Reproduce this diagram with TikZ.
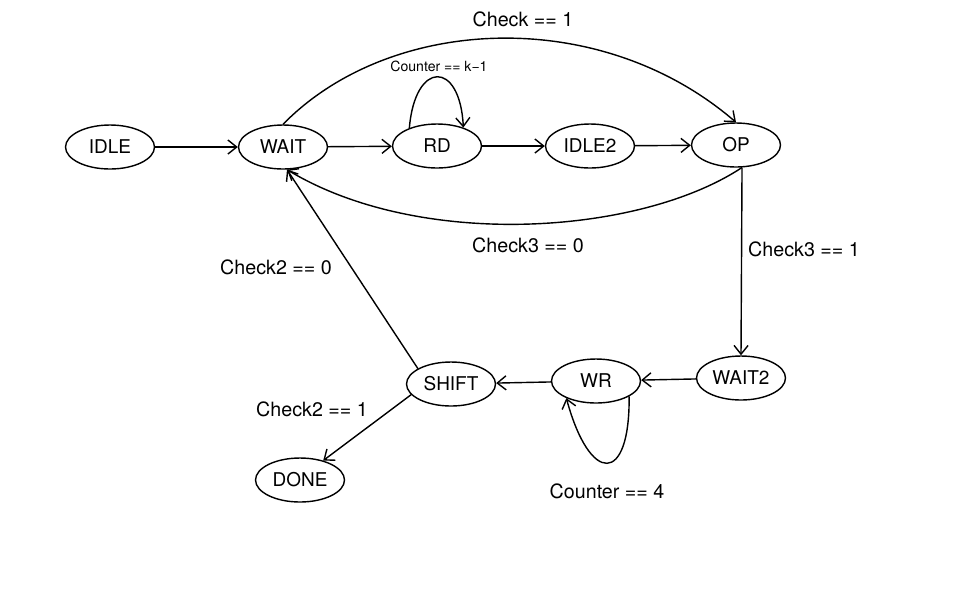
\documentclass[tikz,border=0pt]{standalone}
\usepackage{fontspec}
\setmainfont{TeX Gyre Heros}
\usetikzlibrary{arrows.meta,shapes.geometric}

\begin{document}
\begin{tikzpicture}[x=0.02cm, y=-0.02cm,
    state/.style={draw, ellipse, line width=0.8pt, minimum width=1.78cm,
        minimum height=0.88cm, inner sep=0pt, font=\fontsize{10.8}{13}\selectfont},
    cond/.style={font=\fontsize{11.2}{13}\selectfont},
    edge/.style={->, line width=0.8pt},
    >={Straight Barb[length=5pt,width=8pt]}]
    \useasboundingbox (0,0) rectangle (960,600);

    % Top row of states
    \node[state] (idle)  at (110,147) {IDLE};
    \node[state] (wait)  at (283,147) {WAIT};
    \node[state] (rd)    at (437,146) {RD};
    \node[state] (idle2) at (590,146) {IDLE2};
    \node[state] (op)    at (736,145) {OP};

    % Lower states
    \node[state] (wait2) at (741,378) {WAIT2};
    \node[state] (wr)    at (596,381) {WR};
    \node[state] (shift) at (451,384) {SHIFT};
    \node[state] (done)  at (300,480) {DONE};

    % Straight chain along the top
    \foreach \a/\b in {idle/wait, wait/rd, rd/idle2, idle2/op} {
        \draw[edge] (\a) -- (\b);
    }

    % Jump over the top and the way back
    \draw[edge] (wait.north) .. controls (390,15) and (600,5) .. (op.north);
    \draw[edge] (op.-75) .. controls (640,235) and (420,250) .. (wait.-80);

    % Self loop on RD
    \draw[edge] (rd.147) .. controls (415,60) and (460,60) .. (rd.35);

    % Down to the write part
    \draw[edge] (op.-75) -- (wait2.north);
    \draw[edge] (wait2) -- (wr);
    \draw[edge] (wr.-25) .. controls (630,485) and (590,485) .. (wr.-150);
    \draw[edge] (wr) -- (shift);

    % Leaving SHIFT
    \draw[edge] (shift.155) -- (wait.-80);
    \draw[edge] (shift.-165) -- (done.40);

    % Conditions
    \node[cond] (c1)   at (523,19)  {Check == 1};
    \node[font=\fontsize{8}{10}\selectfont] (ck) at (439,66) {Counter == k−1};
    \node[cond] (c30)  at (528,245) {Check3 == 0};
    \node[cond] (c31)  at (804,249) {Check3 == 1};
    \node[cond] (c20)  at (276,267) {Check2 == 0};
    \node[cond] (c21)  at (312,409) {Check2 == 1};
    \node[cond] (c4)   at (607,491) {Counter == 4};
\end{tikzpicture}
\end{document}
